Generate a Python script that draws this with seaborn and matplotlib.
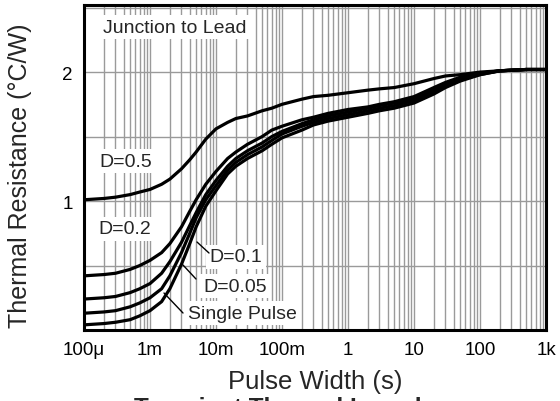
import numpy as np
import pandas as pd
import matplotlib
matplotlib.use("Agg")
import matplotlib.pyplot as plt
from matplotlib.ticker import FixedLocator, LogLocator, NullFormatter, MultipleLocator
import seaborn as sns

# ---- data ----
pulse_width = [1e-4, 2e-4, 3e-4, 5e-4, 7e-4, 1e-3, 1.5e-3, 2e-3, 3e-3, 4e-3, 5e-3, 7e-3,
               1e-2, 1.5e-2, 2e-2, 3e-2, 5e-2, 7e-2, 1e-1, 2e-1, 3e-1, 5e-1,
               1, 2, 3, 5, 10, 20, 30, 50, 100, 200, 500, 1000]
d_05 = [1.01, 1.02, 1.03, 1.05, 1.07, 1.09, 1.13, 1.17, 1.25, 1.32, 1.38, 1.48,
        1.56, 1.61, 1.64, 1.66, 1.70, 1.72, 1.75, 1.79, 1.81, 1.82,
        1.84, 1.86, 1.87, 1.88, 1.91, 1.95, 1.97, 1.98, 2.00, 2.01, 2.02, 2.02]
d_02 = [0.42, 0.43, 0.44, 0.47, 0.50, 0.54, 0.60, 0.67, 0.80, 0.92, 1.01, 1.13,
        1.23, 1.33, 1.38, 1.44, 1.50, 1.55, 1.58, 1.63, 1.65, 1.68,
        1.71, 1.73, 1.75, 1.77, 1.81, 1.88, 1.92, 1.96, 1.99, 2.01, 2.02, 2.02]
d_01 = [0.24, 0.25, 0.26, 0.29, 0.32, 0.36, 0.44, 0.53, 0.68, 0.81, 0.91, 1.05,
        1.16, 1.27, 1.33, 1.39, 1.45, 1.50, 1.54, 1.60, 1.63, 1.66,
        1.69, 1.72, 1.74, 1.76, 1.79, 1.86, 1.90, 1.95, 1.99, 2.01, 2.02, 2.02]
d_005 = [0.13, 0.14, 0.15, 0.18, 0.21, 0.25, 0.32, 0.42, 0.60, 0.75, 0.87, 1.01,
         1.12, 1.24, 1.30, 1.36, 1.42, 1.47, 1.52, 1.58, 1.61, 1.64,
         1.67, 1.70, 1.72, 1.74, 1.78, 1.85, 1.89, 1.94, 1.98, 2.01, 2.02, 2.02]
single = [0.04, 0.05, 0.06, 0.08, 0.11, 0.15, 0.22, 0.32, 0.51, 0.67, 0.80, 0.96,
          1.08, 1.21, 1.27, 1.33, 1.39, 1.44, 1.49, 1.55, 1.59, 1.62,
          1.65, 1.68, 1.70, 1.72, 1.76, 1.83, 1.88, 1.93, 1.98, 2.01, 2.02, 2.02]
series_names = ["D=0.5", "D=0.2", "D=0.1", "D=0.05", "Single Pulse"]
x_tick_values = [1e-4, 1e-3, 1e-2, 1e-1, 1, 10, 100, 1000]
x_tick_labels = ["100\u03bc", "1m", "10m", "100m", "1", "10", "100", "1k"]
y_tick_values = [1, 2]
y_tick_labels = ["1", "2"]

frames = []
for name, vals in zip(series_names, [d_05, d_02, d_01, d_005, single]):
    frames.append(pd.DataFrame({"t": pulse_width, "r": vals, "s": name}))
df = pd.concat(frames, ignore_index=True)

sns.set_style("white")
plt.rcParams["font.family"] = ["Liberation Sans", "DejaVu Sans"]

fig = plt.figure(figsize=(5.6, 4.02), dpi=100)
ax = fig.add_axes([0.15, 0.1766, 0.825, 0.8084])

sns.lineplot(data=df, x="t", y="r", hue="s", units="s", estimator=None,
             palette={n: "black" for n in series_names}, legend=False,
             linewidth=2.3, ax=ax, sort=True)
for ln in ax.lines:
    ln.set_solid_joinstyle("round")
    ln.set_solid_capstyle("round")

ax.set_xscale("log")
ax.set_xlim(1e-4, 1000)
ax.set_ylim(0, 2.52)

ax.xaxis.set_major_locator(FixedLocator(x_tick_values))
ax.set_xticklabels(x_tick_labels)
ax.xaxis.set_minor_locator(LogLocator(base=10, subs=np.arange(2, 10), numticks=20))
ax.xaxis.set_minor_formatter(NullFormatter())
ax.yaxis.set_major_locator(FixedLocator(y_tick_values))
ax.set_yticklabels(y_tick_labels)
ax.yaxis.set_minor_locator(MultipleLocator(0.5))

gcol = "#9a9a9a"
ax.grid(True, which="major", color=gcol, linewidth=1.0, zorder=0)
ax.grid(True, which="minor", color=gcol, linewidth=1.0, zorder=0)
ax.set_axisbelow(True)

ax.tick_params(axis="both", which="both", length=0, labelsize=13.5, pad=8, colors="black")
for sp in ax.spines.values():
    sp.set_color("black")
    sp.set_linewidth(2.2)
    sp.set_zorder(5)

ax.set_xlabel("Pulse Width (s)", fontsize=18.5, labelpad=8)
ax.set_ylabel("Thermal Resistance (\u00b0C/W)", fontsize=18)
ax.yaxis.set_label_coords(-0.113, 0.477)

box = dict(facecolor="white", edgecolor="none", pad=2.5)
tkw = dict(transform=ax.transAxes, fontsize=14, ha="center", va="center", bbox=box, zorder=4)
ax.text(0.197, 0.932, "Junction to Lead", **tkw)
ax.text(0.091, 0.52, "D=0.5", **tkw)
ax.text(0.089, 0.311, "D=0.2", **tkw)
ax.text(0.329, 0.225, "D=0.1", **tkw)
ax.text(0.327, 0.135, "D=0.05", **tkw)
ax.text(0.344, 0.052, "Single Pulse", **tkw)

# leader lines (axes fraction)
def px(xp, yp):
    return ((xp - 84) / 462.0, (331 - yp) / 325.0)

for a, b in [((197, 243), (209, 254)), ((183, 266), (196, 280)), ((164, 294), (183, 314))]:
    ax.annotate("", xy=px(*a), xytext=px(*b), xycoords="axes fraction",
                textcoords="axes fraction",
                arrowprops=dict(arrowstyle="-", color="black", lw=1.0, shrinkA=0, shrinkB=0),
                zorder=4)

fig.text(0.545, 0.012, "Transient Thermal Impedance", fontsize=17.5, fontweight="bold",
         ha="center", va="top")

fig.savefig("out.png", dpi=100)
